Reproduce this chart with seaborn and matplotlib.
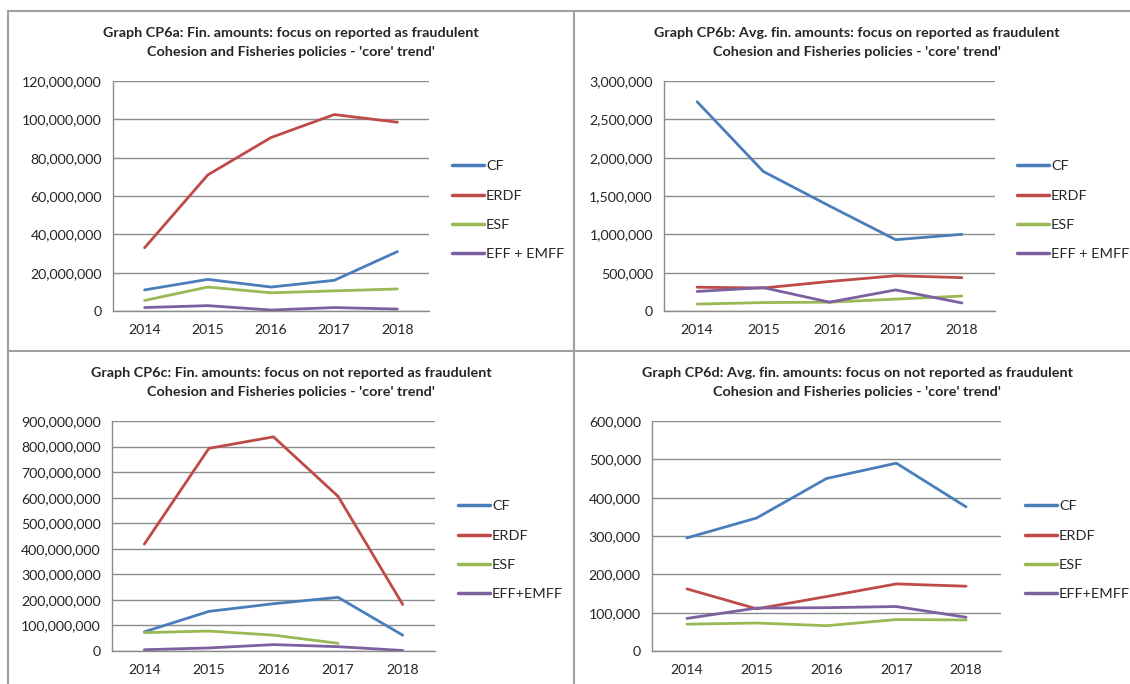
import numpy as np
import pandas as pd
import matplotlib
matplotlib.use("Agg")
import matplotlib.pyplot as plt
from matplotlib.lines import Line2D
from matplotlib.ticker import FuncFormatter, MultipleLocator, FixedLocator
import seaborn as sns

# ---- data ----
years = [2014, 2015, 2016, 2017, 2018]

# CP6a: fin. amounts, reported as fraudulent
a_cf = [11.0e6, 16.5e6, 12.5e6, 16.0e6, 31.0e6]
a_erdf = [33.0e6, 71.0e6, 90.5e6, 102.5e6, 98.5e6]
a_esf = [5.5e6, 12.5e6, 9.5e6, 10.5e6, 11.5e6]
a_eff = [1.8e6, 2.8e6, 0.5e6, 1.8e6, 1.0e6]

# CP6b: avg. fin. amounts, reported as fraudulent
b_cf = [2730000, 1820000, 1370000, 930000, 1000000]
b_erdf = [310000, 300000, 385000, 460000, 435000]
b_esf = [90000, 110000, 115000, 155000, 195000]
b_eff = [255000, 305000, 115000, 275000, 105000]

# CP6c: fin. amounts, not reported as fraudulent
c_cf = [75e6, 155e6, 185e6, 210e6, 62e6]
c_erdf = [418e6, 793e6, 838e6, 605e6, 182e6]
c_esf = [72e6, 78e6, 62e6, 30e6, np.nan]
c_eff = [5e6, 12e6, 25e6, 17e6, 2e6]

# CP6d: avg. fin. amounts, not reported as fraudulent
d_cf = [295000, 347000, 450000, 490000, 376000]
d_erdf = [162000, 110000, 142000, 175000, 169000]
d_esf = [70000, 73000, 66000, 82000, 81000]
d_eff = [85000, 112000, 113000, 116000, 88000]

funds_top = ["CF", "ERDF", "ESF", "EFF + EMFF"]
funds_bottom = ["CF", "ERDF", "ESF", "EFF+EMFF"]

titles = [
    "Graph CP6a: Fin. amounts: focus on reported as fraudulent\nCohesion and Fisheries policies - 'core' trend'",
    "Graph CP6b: Avg. fin. amounts: focus on reported as fraudulent\nCohesion and Fisheries policies - 'core' trend'",
    "Graph CP6c: Fin. amounts: focus on not reported as fraudulent\nCohesion and Fisheries policies - 'core' trend'",
    "Graph CP6d: Avg. fin. amounts: focus on not reported as fraudulent\nCohesion and Fisheries policies - 'core' trend'",
]

colors = ["#4A7EBB", "#BE4B48", "#98B954", "#7D60A0"]

W, H = 1130, 684

sns.set_style("white")
plt.rcParams["font.family"] = ["Lato", "DejaVu Sans"]

fig = plt.figure(figsize=(W / 100, H / 100), dpi=100)


def box(left, right, top, bottom):
    return [left / W, 1 - bottom / H, (right - left) / W, (bottom - top) / H]


def to_long(series, labels):
    rows = []
    for vals, lab in zip(series, labels):
        for yr, v in zip(years, vals):
            rows.append({"year": yr, "value": v, "fund": lab})
    return pd.DataFrame(rows)


panels = [
    dict(series=[a_cf, a_erdf, a_esf, a_eff], labels=funds_top,
         pos=(113, 429, 81, 311), ymax=120e6, step=20e6,
         title_xy=(291, 27), leg=(452, 160)),
    dict(series=[b_cf, b_erdf, b_esf, b_eff], labels=funds_top,
         pos=(664, 995, 81, 311), ymax=3e6, step=500000,
         title_xy=(857, 27), leg=(1017, 160)),
    dict(series=[c_cf, c_erdf, c_esf, c_eff], labels=funds_bottom,
         pos=(112, 435, 421, 651), ymax=900e6, step=100e6,
         title_xy=(291, 367), leg=(458, 500)),
    dict(series=[d_cf, d_erdf, d_esf, d_eff], labels=funds_bottom,
         pos=(652, 1001, 421, 651), ymax=600000, step=100000,
         title_xy=(857, 367), leg=(1025, 500)),
]

grey = "#8C8C8C"

for p, title in zip(panels, titles):
    ax = fig.add_axes(box(*p["pos"]))
    df = to_long(p["series"], p["labels"])
    sns.lineplot(data=df, x="year", y="value", hue="fund",
                 palette=dict(zip(p["labels"], colors)),
                 hue_order=p["labels"], linewidth=2.0, ax=ax, legend=False)

    ax.set_xlim(2013.5, 2018.5)
    ax.set_ylim(0, p["ymax"])
    ax.yaxis.set_major_locator(MultipleLocator(p["step"]))
    ax.yaxis.set_major_formatter(FuncFormatter(lambda v, _: f"{v:,.0f}"))
    ax.set_xticks(years)
    ax.xaxis.set_minor_locator(FixedLocator([2013.5 + i for i in range(6)]))
    ax.tick_params(axis="x", which="major", length=0, pad=9, labelsize=10.2)
    ax.tick_params(axis="x", which="minor", length=5, color=grey, width=1, direction="out")
    ax.tick_params(axis="y", which="major", length=5, color=grey, width=1,
                   direction="out", labelsize=10.2, pad=3)
    ax.grid(axis="y", color=grey, linewidth=1.0)
    ax.set_axisbelow(True)
    for side in ["top", "right"]:
        ax.spines[side].set_visible(False)
    for side in ["left", "bottom"]:
        ax.spines[side].set_color(grey)
        ax.spines[side].set_linewidth(1.0)
    ax.set_xlabel("")
    ax.set_ylabel("")

    fig.text(p["title_xy"][0] / W, 1 - p["title_xy"][1] / H, title,
             ha="center", va="top", fontsize=10.4, fontweight="bold",
             linespacing=1.75)

    handles = [Line2D([], [], color=c, linewidth=2.5) for c in colors]
    fig.legend(handles, p["labels"], loc="upper left",
               bbox_to_anchor=(p["leg"][0] / W, 1 - p["leg"][1] / H),
               frameon=False, fontsize=10.4, handlelength=2.2,
               handletextpad=0.15, labelspacing=1.2, borderpad=0,
               borderaxespad=0)

# panel frame lines
frame = dict(color="#A0A0A0", linewidth=1.5, transform=fig.transFigure)
fig.add_artist(Line2D([8 / W, 1], [1 - 11 / H, 1 - 11 / H], **frame))
fig.add_artist(Line2D([8 / W, 8 / W], [0, 1 - 11 / H], **frame))
fig.add_artist(Line2D([574 / W, 574 / W], [0, 1 - 11 / H], **frame))
fig.add_artist(Line2D([8 / W, 1], [1 - 351 / H, 1 - 351 / H], **frame))

fig.savefig("out.png", dpi=100)
